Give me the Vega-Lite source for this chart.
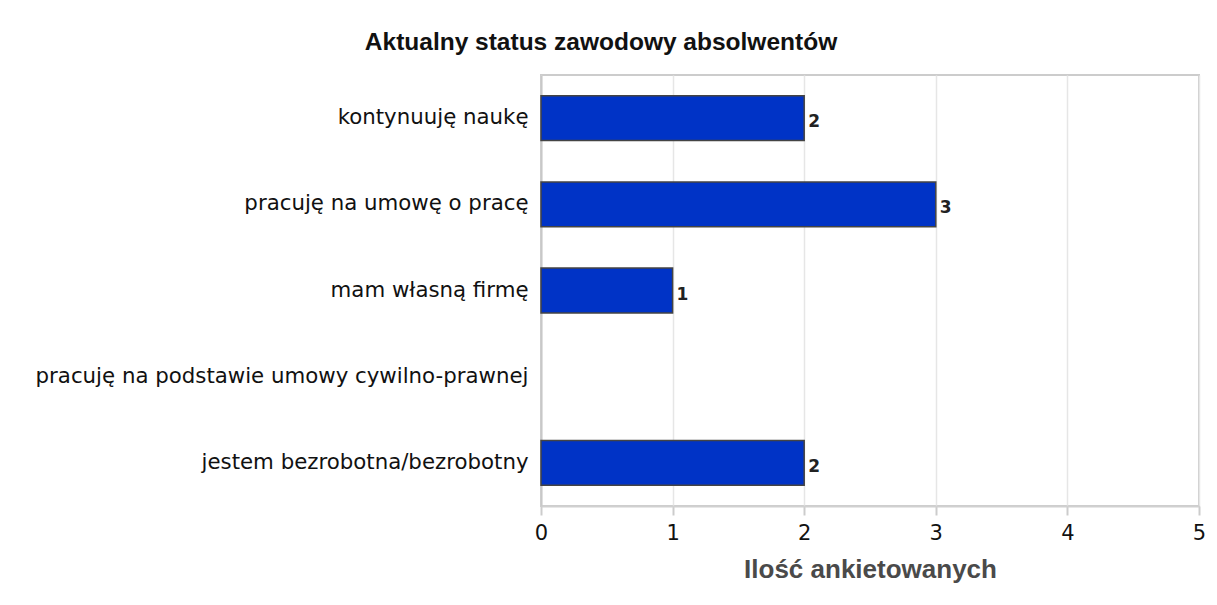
{
  "$schema": "https://vega.github.io/schema/vega-lite/v6.json",
  "width": 658,
  "height": 431,
  "autosize": {"type": "none"},
  "padding": {"left": 541, "top": 75, "right": 18, "bottom": 99},
  "background": "white",
  "title": {
    "text": "Aktualny status zawodowy absolwentów",
    "font": "Liberation Sans",
    "fontSize": 24.5,
    "fontWeight": "bold",
    "color": "#111111",
    "anchor": "middle",
    "frame": "group",
    "dx": -269,
    "offset": 20
  },
  "data": {
    "values": [
      {"status": "kontynuuję naukę", "count": 2},
      {"status": "pracuję na umowę o pracę", "count": 3},
      {"status": "mam własną firmę", "count": 1},
      {"status": "pracuję na podstawie umowy cywilno-prawnej", "count": 0},
      {"status": "jestem bezrobotna/bezrobotny", "count": 2}
    ]
  },
  "config": {
    "view": {"stroke": "#cccccc", "strokeWidth": 2}
  },
  "encoding": {
    "y": {
      "field": "status",
      "type": "nominal",
      "sort": null,
      "scale": {"paddingInner": 0.48, "paddingOuter": 0.24},
      "axis": {
        "title": null,
        "ticks": false,
        "domain": true,
        "domainColor": "#c8c8c8",
        "domainWidth": 2,
        "labelFont": "DejaVu Sans",
        "labelFontSize": 21.3,
        "labelColor": "#111111",
        "labelPadding": 13,
        "labelLimit": 600
      }
    },
    "x": {
      "field": "count",
      "type": "quantitative",
      "scale": {"domain": [0, 5], "nice": false},
      "axis": {
        "title": "Ilość ankietowanych",
        "titleFont": "Liberation Sans",
        "titleFontSize": 26,
        "titleFontWeight": "bold",
        "titleColor": "#4a4a4a",
        "titlePadding": 13,
        "values": [0, 1, 2, 3, 4, 5],
        "format": "d",
        "labelFlush": false,
        "grid": true,
        "gridColor": "#e6e6e6",
        "gridWidth": 1.5,
        "domainColor": "#d0d0d0",
        "domainWidth": 2,
        "tickColor": "#cccccc",
        "tickWidth": 2,
        "tickSize": 9,
        "labelFont": "DejaVu Sans",
        "labelFontSize": 21,
        "labelColor": "#111111",
        "labelPadding": 7
      }
    }
  },
  "layer": [
    {
      "mark": {"type": "bar", "color": "#0033c6", "stroke": "#444444", "strokeWidth": 1.5},
      "encoding": {
        "strokeOpacity": {"condition": {"test": "datum.count > 0", "value": 1}, "value": 0}
      }
    },
    {
      "transform": [{"filter": "datum.count > 0"}],
      "mark": {
        "type": "text",
        "align": "left",
        "baseline": "middle",
        "dx": 4,
        "dy": 4,
        "font": "DejaVu Sans",
        "fontSize": 17,
        "fontWeight": "bold",
        "color": "#222222"
      },
      "encoding": {"text": {"field": "count", "type": "quantitative"}}
    }
  ]
}
